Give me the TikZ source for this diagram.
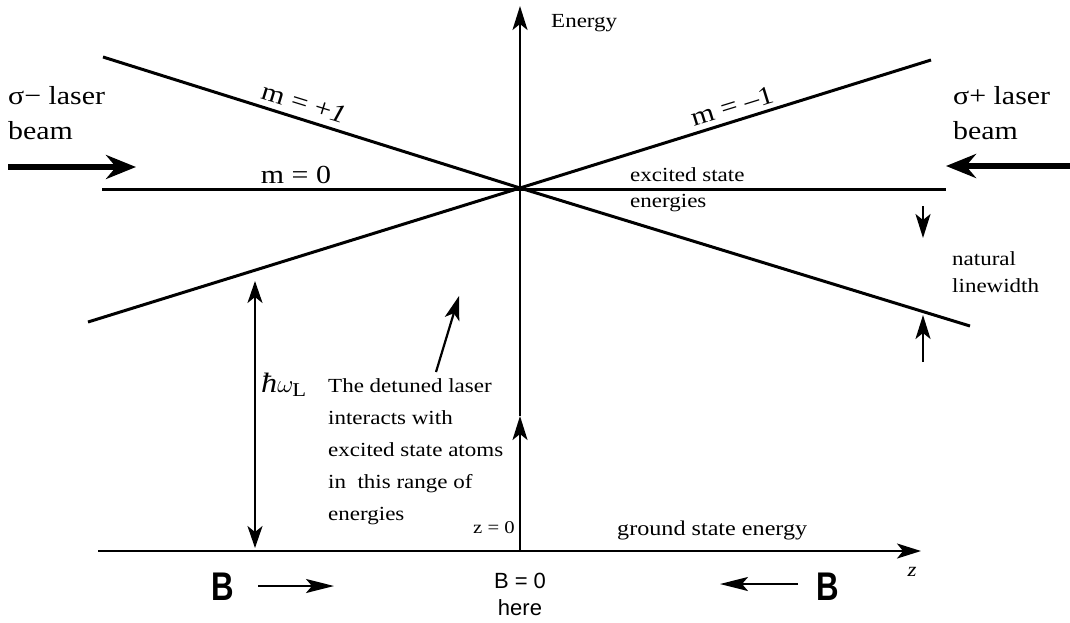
\documentclass[tikz,border=0pt]{standalone}
\usepackage{fontspec}
\setmainfont{Liberation Serif}[FakeStretch=1.15]
\setsansfont{Liberation Sans}
\usetikzlibrary{arrows.meta}
\newcommand\setfs[2]{\fontsize{#1}{#2}\selectfont}
\begin{document}
\begin{tikzpicture}[x=1pt,y=-1pt,
  lvl/.style={line width=3pt},
  axarrow/.style={line width=2.2pt,-{Stealth[length=24pt,width=15pt,inset=6pt]}},
  dblarrow/.style={line width=2.2pt,{Stealth[length=22pt,width=15pt,inset=6pt]}-{Stealth[length=22pt,width=15pt,inset=6pt]}},
  laser/.style={line width=5.5pt,-{Stealth[length=30pt,width=24pt,inset=10pt]}},
  barrow/.style={line width=2.2pt,-{Stealth[length=28pt,width=14pt,inset=6pt]}},
  txt/.style={inner sep=0pt,font=\setfs{20}{32}},
  bigtxt/.style={inner sep=0pt,font=\setfs{26}{35}},
  mtxt/.style={inner sep=0pt,font=\setfs{26}{30}},
  stxt/.style={inner sep=0pt,font=\sffamily\setfs{22}{27}},
  btxt/.style={inner sep=0pt,font=\sffamily\bfseries\setfs{40}{42}}]
\useasboundingbox (0,0) rectangle (1070,622);
% coordinates
\coordinate (C) at (520,188);
\coordinate (Eb) at (520,551);
\coordinate (Em) at (520,416);
\coordinate (Et) at (520,6);
\coordinate (G0) at (98,551);
\coordinate (G1) at (921,551);
\coordinate (P1L) at (103,57);
\coordinate (P1R) at (970,326);
\coordinate (M1L) at (88,322);
\coordinate (M1R) at (931,60);
\coordinate (Z0L) at (102,189);
\coordinate (Z0R) at (946,189);
% energy levels
\draw[lvl] (Z0L) -- (Z0R);
\draw[lvl] (P1L) -- (C) -- (P1R);
\draw[lvl] (M1L) -- (C) -- (M1R);
% axes
\draw[axarrow] (Eb) -- (Em);
\draw[axarrow] (Em) -- (Et);
\draw[axarrow] (G0) -- (G1);
% hbar omega arrow
\coordinate (HT) at (255,281);
\coordinate (HB) at (255,548);
\draw[dblarrow] (HT) -- (HB);
% pointer arrow
\coordinate (PT) at (436,372);
\coordinate (PH) at (459,296);
\draw[axarrow] (PT) -- (PH);
% natural linewidth arrows
\coordinate (LD0) at (923,206);
\coordinate (LD1) at (923,238);
\coordinate (LU0) at (923,362);
\coordinate (LU1) at (923,315);
\draw[axarrow] (LD0) -- (LD1);
\draw[axarrow] (LU0) -- (LU1);
% laser arrows
\coordinate (SL0) at (8,167);
\coordinate (SL1) at (136,167);
\coordinate (SR0) at (1070,166);
\coordinate (SR1) at (946,166);
\draw[laser] (SL0) -- (SL1);
\draw[laser] (SR0) -- (SR1);
% B arrows
\coordinate (BL0) at (258,586);
\coordinate (BL1) at (334,586);
\coordinate (BR0) at (798,584);
\coordinate (BR1) at (720,584);
\draw[barrow] (BL0) -- (BL1);
\draw[barrow] (BR0) -- (BR1);
% texts
\node[txt,anchor=base west] (energy) at (551,27) {Energy};
\node[mtxt,rotate=-17.2] (mp) at (304,103) {m = +\textit{1}};
\node[mtxt,rotate=17.2] (mm) at (732,106) {m = –1};
\node[mtxt,anchor=base] (m0) at (296,183) {m = 0};
\node[bigtxt,anchor=base west,align=left] (sml) at (8,139) {σ− laser\\beam};
\node[bigtxt,anchor=base west,align=left] (spl) at (953,139) {σ+ laser\\beam};
\node[txt,anchor=base west,align=left,font=\setfs{20}{26}] (exc) at (630,207) {excited state\\energies};
\node[txt,anchor=base west,align=left,font=\setfs{20}{27}] (nat) at (952,292) {natural\\linewidth};
\node[inner sep=0pt,anchor=base west,font=\setfs{28}{30}] (hw) at (261,392) {\textit{ħ}$\omega_{\mathrm{L}}$};
\node[txt,anchor=base west,align=left] (det) at (328,520) {The detuned laser\\interacts with\\excited state atoms\\in~ this range of\\energies};
\node[txt,anchor=base east,font=\setfs{18}{20}] (z0) at (515,533) {z = 0};
\node[txt,anchor=base west,font=\setfs{21}{24}] (gse) at (617,535) {ground state energy};
\node[txt,font=\itshape\setfs{20}{24}] (zl) at (912,572) {z};
\node[stxt,anchor=base,align=center] (b0) at (520,615) {B = 0\\here};
\node[btxt,xscale=0.78] (bl) at (223,587) {B};
\node[btxt,xscale=0.78] (br) at (828,587) {B};
\end{tikzpicture}
\end{document}
